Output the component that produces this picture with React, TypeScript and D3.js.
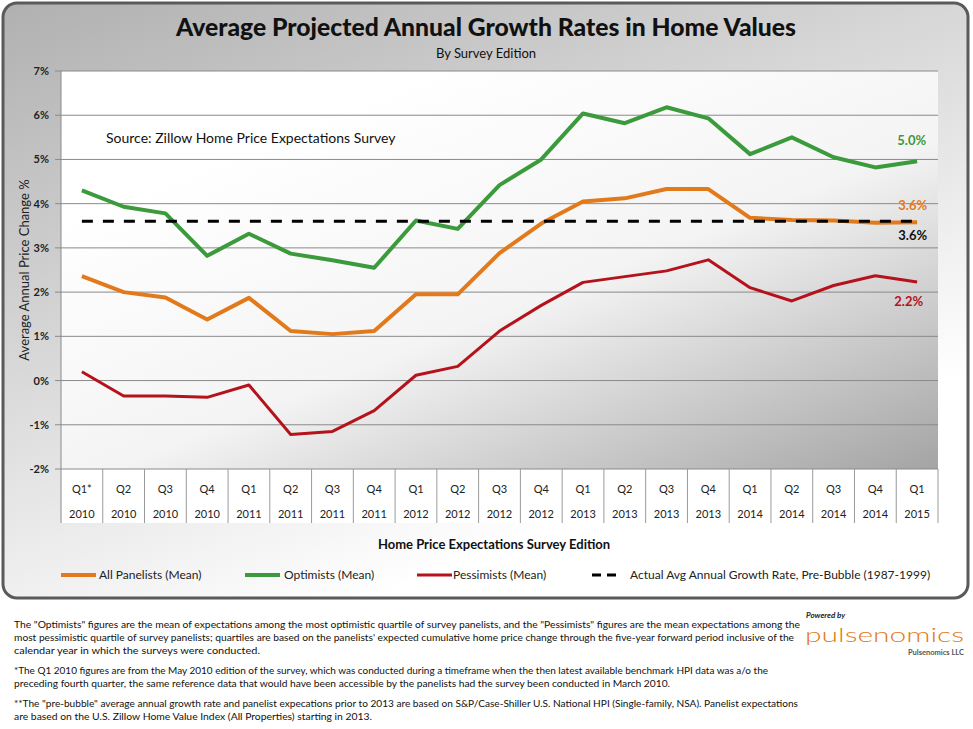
import React from "react";
import * as d3 from "d3";

const quarters = ["Q1*", "Q2", "Q3", "Q4", "Q1", "Q2", "Q3", "Q4", "Q1", "Q2", "Q3", "Q4", "Q1", "Q2", "Q3", "Q4", "Q1", "Q2", "Q3", "Q4", "Q1"];
const years = ["2010", "2010", "2010", "2010", "2011", "2011", "2011", "2011", "2012", "2012", "2012", "2012", "2013", "2013", "2013", "2013", "2014", "2014", "2014", "2014", "2015"];
const allPanelists = [2.36, 2.0, 1.88, 1.38, 1.87, 1.12, 1.05, 1.12, 1.95, 1.95, 2.88, 3.55, 4.05, 4.12, 4.33, 4.33, 3.68, 3.63, 3.62, 3.57, 3.58];
const optimists = [4.3, 3.93, 3.78, 2.82, 3.32, 2.87, 2.72, 2.55, 3.62, 3.43, 4.42, 5.0, 6.04, 5.82, 6.18, 5.93, 5.12, 5.5, 5.05, 4.82, 4.96];
const pessimists = [0.2, -0.35, -0.35, -0.38, -0.1, -1.22, -1.15, -0.68, 0.12, 0.32, 1.12, 1.7, 2.22, 2.35, 2.48, 2.73, 2.1, 1.8, 2.15, 2.37, 2.23];
const benchmark = 3.6;
const yTicks = [-2, -1, 0, 1, 2, 3, 4, 5, 6, 7];

const C_OR = "#E27A1C";
const C_GR = "#3B9A3B";
const C_RD = "#B5121B";
const FONT = "Lato, 'Open Sans', sans-serif";

const footA = [
  "The \"Optimists\" figures are the mean of expectations  among the most optimistic quartile of survey panelists, and the \"Pessimists\" figures are the mean expectations  among the",
  "most pessimistic quartile of survey panelists; quartiles are  based on the panelists' expected cumulative  home price change through the five-year forward period inclusive of the",
  "calendar year in which  the surveys were conducted.",
];
const footB = [
  "*The Q1 2010 figures are from the May 2010 edition of the survey, which was conducted during a timeframe when the then latest available benchmark HPI data was a/o the",
  "preceding fourth quarter, the same reference data that would have been accessible by the panelists had the survey been conducted in March 2010.",
];
const footC = [
  "**The \"pre-bubble\" average annual growth rate  and panelist expecations  prior to 2013 are based on S&P/Case-Shiller U.S. National HPI (Single-family, NSA).  Panelist expectations",
  "are based on the U.S. Zillow Home Value Index (All Properties) starting in 2013.",
];
const footWidths = [
  [786, 780, 246],
  [754, 656],
  [784, 358],
];

export default function App() {
  const W = 973, H = 729;
  const left = 61, right = 938, top = 71, bottom = 469;
  const x = d3.scaleBand<number>().domain(d3.range(quarters.length)).range([left, right]);
  const y = d3.scaleLinear().domain([-2, 7]).range([bottom, top]);
  const cx = (i: number) => (x(i) as number) + x.bandwidth() / 2;
  const line = d3.line<number>().x((_, i) => cx(i)).y((d) => y(d));
  const last = quarters.length - 1;

  return (
    <svg width={W} height={H} style={{ position: "absolute", left: 0, top: 0, fontFamily: FONT }}>
      <defs>
        <linearGradient id="outer" x1="0" y1="0" x2="0.55" y2="0.9">
          <stop offset="0" stopColor="#b0b0b0" />
          <stop offset="1" stopColor="#ffffff" />
        </linearGradient>
        <linearGradient id="plotbg" x1="0.25" y1="0.15" x2="1" y2="1">
          <stop offset="0" stopColor="#ffffff" />
          <stop offset="0.45" stopColor="#f4f4f4" />
          <stop offset="1" stopColor="#a4a4a4" />
        </linearGradient>
      </defs>
      <rect x={0} y={0} width={W} height={H} fill="#ffffff" />
      <rect x={3} y={3} width={965} height={595} rx={14} fill="url(#outer)" stroke="#5a5a5a" strokeWidth={3} />
      <rect x={left} y={top} width={right - left} height={bottom - top} fill="url(#plotbg)" />
      <rect x={left} y={bottom} width={right - left} height={54} fill="#ffffff" />

      <text x={486} y={36} textAnchor="middle" fontSize={24} fontWeight="900" fill="#111" textLength={620} lengthAdjust="spacingAndGlyphs">Average Projected Annual  Growth Rates in Home Values</text>
      <text x={486} y={58} textAnchor="middle" fontSize={13} fill="#111">By Survey Edition</text>

      {yTicks.map((t) => (
        <g key={t}>
          <line x1={55} x2={right} y1={y(t)} y2={y(t)} stroke="#8a8a8a" strokeWidth={1} />
          <text x={49} y={y(t) + 4} textAnchor="end" fontSize={11} fontWeight="bold" fill="#222">{t}%</text>
        </g>
      ))}
      <line x1={left} x2={left} y1={top} y2={523} stroke="#8a8a8a" />
      {quarters.map((q, i) => (
        <g key={i}>
          <line x1={(x(i) as number) + x.bandwidth()} x2={(x(i) as number) + x.bandwidth()} y1={bottom} y2={523} stroke="#9a9a9a" />
          <text x={cx(i)} y={493} textAnchor="middle" fontSize={11} fill="#222">{q}</text>
          <text x={cx(i)} y={518} textAnchor="middle" fontSize={11} fill="#222">{years[i]}</text>
        </g>
      ))}

      <text x={106} y={143} fontSize={14} fill="#111">Source: Zillow Home Price Expectations Survey</text>
      <text transform="translate(29,270) rotate(-90)" textAnchor="middle" fontSize={13} fill="#222">Average Annual Price Change %</text>

      <path d={line(optimists) || ""} fill="none" stroke={C_GR} strokeWidth={4} strokeLinejoin="round" />
      <path d={line(allPanelists) || ""} fill="none" stroke={C_OR} strokeWidth={4} strokeLinejoin="round" />
      <path d={line(pessimists) || ""} fill="none" stroke={C_RD} strokeWidth={3} strokeLinejoin="round" />
      <line x1={cx(0)} x2={cx(last)} y1={y(benchmark)} y2={y(benchmark)} stroke="#000" strokeWidth={3} strokeDasharray="11 10" />

      <text x={cx(last) + 9} y={y(optimists[last]) - 16} textAnchor="end" fontSize={13} fontWeight="bold" fill={C_GR}>{optimists[last].toFixed(1)}%</text>
      <text x={cx(last) + 10} y={y(allPanelists[last]) - 12} textAnchor="end" fontSize={13} fontWeight="bold" fill={C_OR}>{allPanelists[last].toFixed(1)}%</text>
      <text x={cx(last) + 10} y={y(benchmark) + 19} textAnchor="end" fontSize={13} fontWeight="bold" fill="#111">{benchmark.toFixed(1)}%</text>
      <text x={cx(last) + 6} y={y(pessimists[last]) + 24} textAnchor="end" fontSize={13} fontWeight="bold" fill={C_RD}>{pessimists[last].toFixed(1)}%</text>

      <text x={494} y={549} textAnchor="middle" fontSize={13} fontWeight="bold" fill="#111">Home Price Expectations Survey Edition</text>

      <line x1={61} x2={96} y1={575} y2={575} stroke={C_OR} strokeWidth={4} />
      <text x={99} y={579} fontSize={12} fill="#222">All Panelists (Mean)</text>
      <line x1={245} x2={280} y1={575} y2={575} stroke={C_GR} strokeWidth={4} />
      <text x={284} y={579} fontSize={12} fill="#222">Optimists (Mean)</text>
      <line x1={417} x2={452} y1={575} y2={575} stroke={C_RD} strokeWidth={3} />
      <text x={453} y={579} fontSize={12} fill="#222">Pessimists (Mean)</text>
      <line x1={592} x2={622} y1={575} y2={575} stroke="#000" strokeWidth={3} strokeDasharray="9 6" />
      <text x={630} y={579} fontSize={12} fill="#222">Actual Avg Annual Growth Rate, Pre-Bubble (1987-1999)</text>

      {[footA, footB, footC].map((blk, bi) =>
        blk.map((s, li) => (
          <text key={bi + "-" + li} x={14} y={[628, 674, 707][bi] + li * 13} fontSize={9} fill="#111" textLength={footWidths[bi][li]} lengthAdjust="spacingAndGlyphs">{s}</text>
        ))
      )}

      <text x={806} y={618} fontSize={8} fontWeight="bold" fontStyle="italic" fill="#222">Powered by</text>
      <text x={805} y={642} fontSize={20} fontWeight="300" fill={C_OR} textLength={159} lengthAdjust="spacingAndGlyphs">pulsenomics</text>
      <text x={964} y={655} textAnchor="end" fontSize={7.5} fontWeight="bold" fill="#555">Pulsenomics LLC</text>
    </svg>
  );
}
